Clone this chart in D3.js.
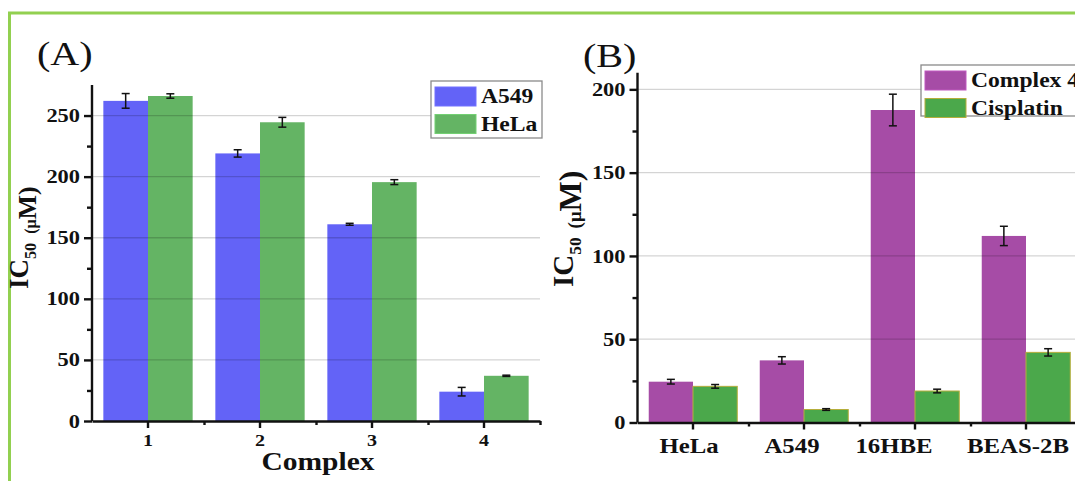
<!DOCTYPE html>
<html>
<head>
<meta charset="utf-8">
<script src="https://cdn.jsdelivr.net/npm/d3@7"></script>
<style>
  html, body { margin: 0; padding: 0; background: #fff; }
  svg { display: block; }
  text { font-family: "Liberation Serif", "Times New Roman", serif; fill: #111; }
</style>
</head>
<body>
<svg id="chart"></svg>
<script>
// ---- data ----
let complexes = ['1', '2', '3', '4'];
let a549 = [262, 219, 161, 24];
let a549Err = [6, 3, 0.8, 3.5];
let hela = [266, 244.5, 195.5, 37];
let helaErr = [1.8, 4, 2, 0.5];
let yTicksA = [0, 50, 100, 150, 200, 250];

let cellLines = ['HeLa', 'A549', '16HBE', 'BEAS-2B'];
let complex4 = [24.5, 37.3, 187.6, 112];
let complex4Err = [1.4, 2.2, 9.5, 5.8];
let cisplatin = [21.7, 7.8, 18.9, 42.1];
let cisplatinErr = [1.1, 0.5, 1.1, 2.2];
let yTicksB = [0, 50, 100, 150, 200];

let width = 1075;
let height = 481;
let SX = 1.18; // the figure is stretched sideways a bit
let svg = d3.select('#chart').attr('width', width).attr('height', height);

// green frame round the figure
svg.append('rect')
   .attr('x', 9.5).attr('y', 13)
   .attr('width', 1100).attr('height', 500)
   .attr('fill', 'none')
   .attr('stroke', '#92d050')
   .attr('stroke-width', 3);

let stext = (g, x, y, str, size, anchor, weight) => {
  return g.append('text')
    .attr('transform', 'translate(' + x + ',' + y + ') scale(' + SX + ',1)')
    .style('font-size', size + 'px')
    .style('font-weight', weight || 'bold')
    .attr('text-anchor', anchor || 'start')
    .text(str);
};

let drawPanel = (p) => {
  let g = svg.append('g');
  let x = d3.scaleBand().domain(p.cats).range([p.left, p.right]).padding(0);
  let sub = d3.scaleBand().domain([0, 1]).range([0, x.bandwidth()]).paddingInner(0).paddingOuter(0.254);
  let y = d3.scaleLinear().domain([0, p.yMax]).range([p.bottom, p.top]);

  // bars
  p.series.forEach((s, si) => {
    g.selectAll(null)
      .data(s.values)
      .enter()
      .append('rect')
      .attr('x', (d, i) => x(p.cats[i]) + sub(si))
      .attr('y', d => y(d))
      .attr('width', sub.bandwidth())
      .attr('height', d => y(0) - y(d))
      .attr('fill', s.color)
      .attr('stroke', s.stroke || 'none')
      .attr('stroke-width', s.stroke ? 1 : 0);
  });

  // grid lines over the bars
  g.selectAll(null)
    .data(p.yTicks.filter(t => t > 0))
    .enter()
    .append('line')
    .attr('x1', p.left).attr('x2', p.right)
    .attr('y1', d => y(d)).attr('y2', d => y(d))
    .attr('stroke', 'rgba(0,0,0,0.17)')
    .attr('stroke-width', 1.3);

  // error bars
  p.series.forEach((s, si) => {
    s.values.forEach((v, i) => {
      let cx = x(p.cats[i]) + sub(si) + sub.bandwidth() / 2;
      let e = s.err[i];
      let eg = g.append('g').attr('stroke', '#111').attr('stroke-width', 1.5);
      eg.append('line').attr('x1', cx).attr('x2', cx).attr('y1', y(v + e)).attr('y2', y(v - e));
      eg.append('line').attr('x1', cx - 4).attr('x2', cx + 4).attr('y1', y(v + e)).attr('y2', y(v + e));
      eg.append('line').attr('x1', cx - 4).attr('x2', cx + 4).attr('y1', y(v - e)).attr('y2', y(v - e));
    });
  });

  // y axis
  let step = p.yTicks[1] - p.yTicks[0];
  let minorY = d3.range(step / 2, p.yMax, step);
  let yAxis = g.append('g')
    .attr('transform', 'translate(' + p.left + ',0)')
    .call(d3.axisLeft(y).tickValues(p.yTicks).tickSize(8).tickSizeOuter(0).tickPadding(4));
  yAxis.selectAll('text')
    .attr('x', -12 / SX)
    .attr('transform', 'scale(' + SX + ',1)')
    .style('font-size', p.tickFont + 'px')
    .style('font-weight', 'bold');
  g.append('g')
    .attr('transform', 'translate(' + p.left + ',0)')
    .call(d3.axisLeft(y).tickValues(minorY).tickSize(5).tickSizeOuter(0).tickFormat(''))
    .select('.domain').remove();

  // x axis
  let xAxis = g.append('g')
    .attr('transform', 'translate(0,' + p.bottom + ')')
    .call(d3.axisBottom(x).tickSize(7).tickSizeOuter(0).tickPadding(p.xPad));
  xAxis.selectAll('text')
    .attr('x', (d, i) => (p.xShift ? p.xShift[i] : 0) / SX)
    .attr('transform', 'scale(' + SX + ',1)')
    .style('font-size', p.xFont + 'px')
    .style('font-weight', 'bold');
  g.append('g')
    .attr('transform', 'translate(0,' + p.bottom + ')')
    .call(d3.axisBottom(d3.scaleLinear().domain([0, 1]).range([p.left, p.right]))
      .tickValues(d3.range(1, p.cats.length + 1).map(k => k / p.cats.length))
      .tickSize(4).tickSizeOuter(0).tickFormat(''))
    .select('.domain').remove();

  g.selectAll('.domain, .tick line').attr('stroke', '#111').attr('stroke-width', 2.4);
  // y axis reaches above the last tick
  yAxis.select('.domain').attr('d', 'M0,' + p.axisTop + 'V' + p.bottom);

  // panel letter
  stext(g, p.letterX, p.letterY, p.letter, 34, 'start', 'normal');

  // y title: IC50 (uM), the unit sits on the subscript line
  let yt = g.append('text')
    .attr('transform', 'translate(' + p.yTitleX + ',' + p.yTitleY + ') rotate(-90)')
    .style('font-size', p.yTitleFont + 'px')
    .style('font-weight', 'bold');
  yt.append('tspan').text('IC');
  yt.append('tspan').style('font-size', (p.yTitleFont * 0.6) + 'px').attr('dy', 8).text('50');
  yt.append('tspan').style('font-size', (p.yTitleFont * p.muScale) + 'px').attr('dx', 9).text('(μ');
  yt.append('tspan').style('font-size', (p.yTitleFont * p.mScale) + 'px').text('M)');

  // legend
  let lg = g.append('g');
  lg.append('rect')
    .attr('x', p.legX).attr('y', p.legY)
    .attr('width', p.legW).attr('height', p.legH)
    .attr('fill', '#fff').attr('stroke', '#8a8a8a').attr('stroke-width', 1.3);
  p.series.forEach((s, si) => {
    let ry = p.legY + 6 + si * p.legRow;
    lg.append('rect')
      .attr('x', p.legX + 4).attr('y', ry)
      .attr('width', 41).attr('height', 19)
      .attr('fill', s.color)
      .attr('stroke', s.stroke || d3.color(s.color).brighter(0.4))
      .attr('stroke-width', 1);
    stext(lg, p.legX + 50, ry + 16, s.name, 20, 'start', 'bold');
  });

  return g;
};

let panelA = drawPanel({
  cats: complexes,
  left: 92, right: 540, top: 85, bottom: 421, axisTop: 85, yMax: 275,
  yTicks: yTicksA, tickFont: 19, xFont: 17, xPad: 6,
  series: [
    { name: 'A549', values: a549, err: a549Err, color: '#6363f7' },
    { name: 'HeLa', values: hela, err: helaErr, color: '#64b464' }
  ],
  letter: '(A)', letterX: 37, letterY: 65,
  yTitleX: 28, yTitleY: 289, yTitleFont: 27, muScale: 0.6, mScale: 0.95,
  legX: 431, legY: 81, legW: 111, legH: 57, legRow: 27.5
});
stext(panelA, 318, 470, 'Complex', 25, 'middle', 'bold');

drawPanel({
  cats: cellLines,
  left: 637.5, right: 1081.5, top: 72.7, bottom: 422.5, axisTop: 72.7, yMax: 210,
  yTicks: yTicksB, tickFont: 19, xFont: 21, xPad: 9,
  xShift: [-4, -12, -21, -8],
  series: [
    { name: 'Complex 4', values: complex4, err: complex4Err, color: '#a64ca6' },
    { name: 'Cisplatin', values: cisplatin, err: cisplatinErr, color: '#4ba84b', stroke: '#b5ae3c' }
  ],
  letter: '(B)', letterX: 583, letterY: 66.5,
  yTitleX: 573, yTitleY: 287, yTitleFont: 29, muScale: 0.65, mScale: 1.1,
  legX: 921, legY: 65, legW: 200, legH: 51, legRow: 27.5
});
</script>
</body>
</html>
